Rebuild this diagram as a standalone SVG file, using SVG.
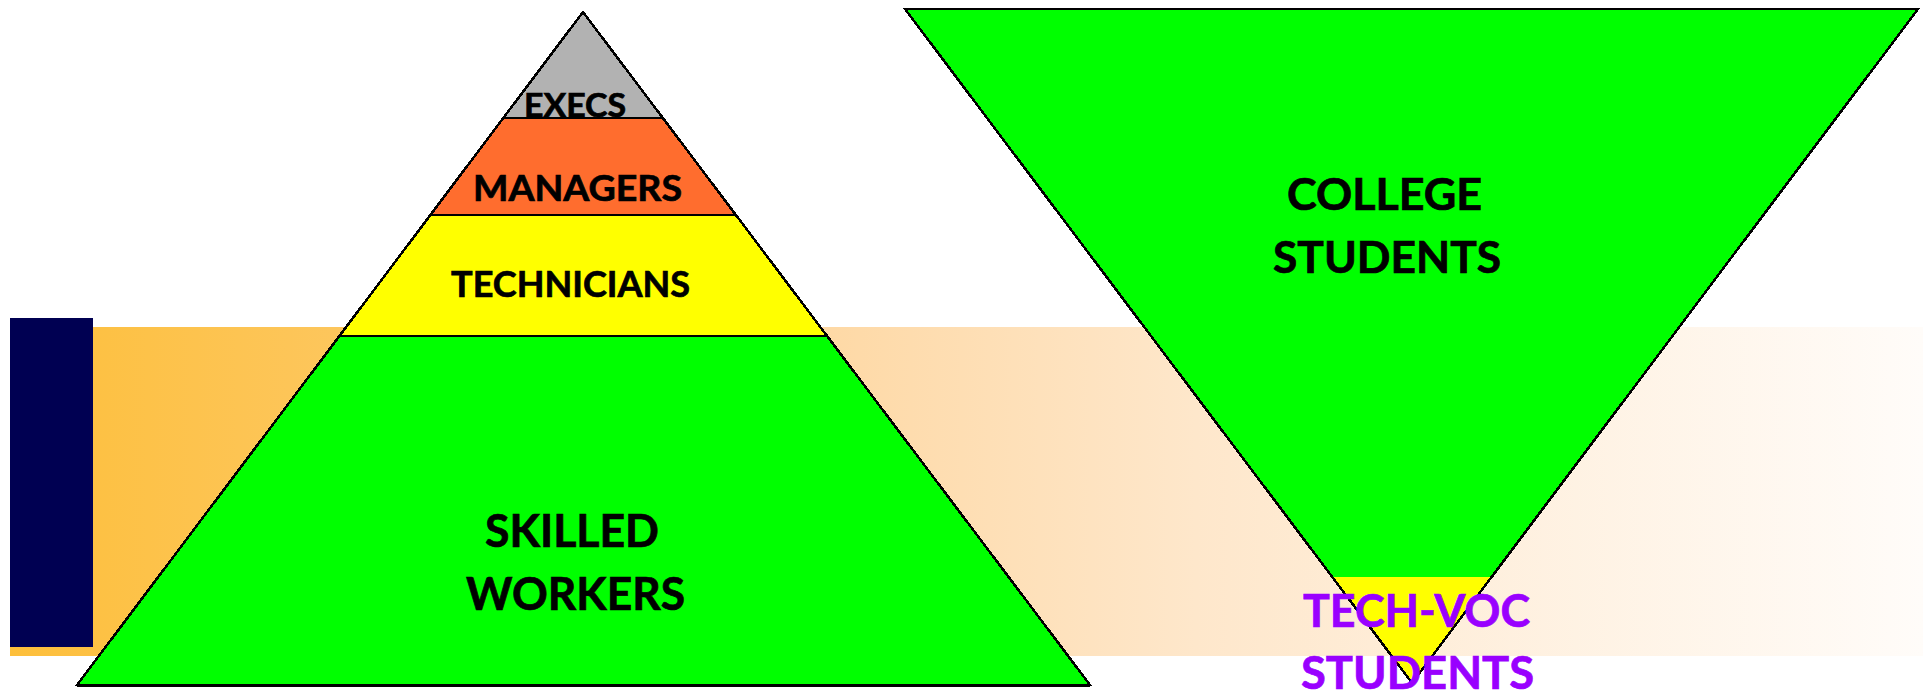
<svg xmlns="http://www.w3.org/2000/svg" width="1923" height="693" viewBox="0 0 1923 693">
<defs>
<linearGradient id="bandGrad" x1="0" y1="0" x2="1" y2="0">
<stop offset="0" stop-color="#FDBF3B"/>
<stop offset="0.17" stop-color="#FDC65C"/>
<stop offset="0.43" stop-color="#FED9A6"/>
<stop offset="0.62" stop-color="#FEE7CB"/>
<stop offset="1" stop-color="#FFFCF9"/>
</linearGradient>
</defs>
<style>
.lbl{font-family:Lato,"Open Sans","Liberation Sans",sans-serif;font-weight:bold;fill:#000000;stroke:#000000;stroke-width:0.7}
.purple{fill:#9900FF;stroke:#9900FF}
.edge{fill:none;stroke:#000000;stroke-width:2.5;stroke-linejoin:miter}
.sep{stroke:#000000;stroke-width:2}
.tri{shape-rendering:crispEdges}
</style>
<rect width="1923" height="693" fill="#FFFFFF"/>
<g id="background">
<rect x="10" y="327" width="1913" height="329" fill="url(#bandGrad)"/>
<rect x="10" y="318" width="83" height="329" fill="#000052"/>
</g>
<g id="pyramid">
<g id="execs">
<polygon class="tri" points="583,12 663.3,118 503.7,118" fill="#B2B2B2"/>
<text class="lbl" x="524" y="117" font-size="32" textLength="102" lengthAdjust="spacingAndGlyphs">EXECS</text>
</g>
<g id="managers">
<polygon class="tri" points="503.7,118 663.3,118 736.3,215 430.7,215" fill="#FF6D2E"/>
<text class="lbl" x="473" y="201" font-size="36" textLength="209" lengthAdjust="spacingAndGlyphs">MANAGERS</text>
</g>
<g id="technicians">
<polygon class="tri" points="430.7,215 736.3,215 827.3,336 339.7,336" fill="#FFFF00"/>
<text class="lbl" x="451" y="297" font-size="37" textLength="239" lengthAdjust="spacingAndGlyphs">TECHNICIANS</text>
</g>
<g id="skilled-workers">
<polygon class="tri" points="339.7,336 827.3,336 1090,685 77,685" fill="#00FF00"/>
<text class="lbl" x="485" y="547" font-size="45" textLength="174" lengthAdjust="spacingAndGlyphs">SKILLED</text>
<text class="lbl" x="466" y="610" font-size="46" textLength="219" lengthAdjust="spacingAndGlyphs">WORKERS</text>
</g>
<polygon class="edge tri" points="583,12 1090,685 77,685"/>
<line class="sep tri" x1="503.7" y1="118" x2="663.3" y2="118"/>
<line class="sep tri" x1="430.7" y1="215" x2="736.3" y2="215"/>
<line class="sep tri" x1="339.7" y1="336" x2="827.3" y2="336"/>
<line class="tri" x1="77" y1="685" x2="1090" y2="685" stroke="#000000" stroke-width="3"/>
</g>
<g id="funnel">
<g id="college-students">
<polygon class="tri" points="905,9 1918,9 1412,683" fill="#00FF00"/>
<text class="lbl" x="1287" y="210" font-size="43" textLength="195" lengthAdjust="spacingAndGlyphs">COLLEGE</text>
<text class="lbl" x="1273" y="273" font-size="43" textLength="228" lengthAdjust="spacingAndGlyphs">STUDENTS</text>
</g>
<g id="techvoc-students">
<polygon class="tri" points="1332.3,577 1491.7,577 1412,683" fill="#FFFF00"/>
</g>
<polygon class="edge tri" points="905,9 1918,9 1412,683"/>
<text class="lbl purple" x="1303" y="627" font-size="46" textLength="227" lengthAdjust="spacingAndGlyphs">TECH-VOC</text>
<text class="lbl purple" x="1301" y="689" font-size="46" textLength="233" lengthAdjust="spacingAndGlyphs">STUDENTS</text>
</g>
</svg>
